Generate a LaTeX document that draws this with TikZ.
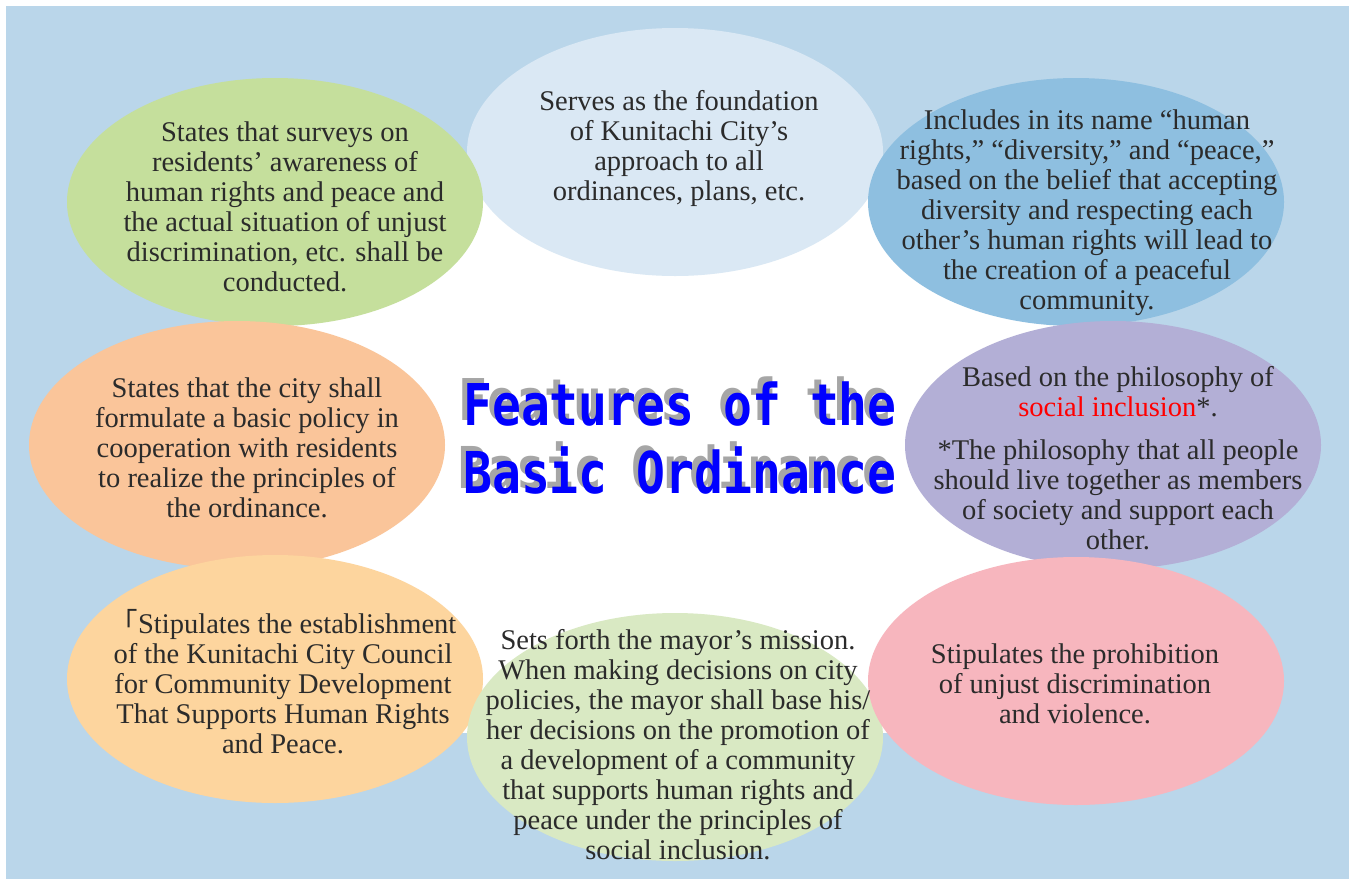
\documentclass[tikz,border=0pt]{standalone}
\usepackage{fontspec}
\setmainfont{Liberation Serif}
\newfontfamily\titlefont{DejaVu Sans Mono}
\newfontfamily\cjkfont{Noto Sans CJK JP}
\usetikzlibrary{shapes.geometric}
\definecolor{bgblue}{HTML}{BAD6EA}
\definecolor{elTC}{HTML}{DAE8F4}
\definecolor{elTL}{HTML}{C5DF9C}
\definecolor{elTR}{HTML}{8EBFE0}
\definecolor{elML}{HTML}{FAC59A}
\definecolor{elMR}{HTML}{B3AFD6}
\definecolor{elBL}{HTML}{FDD59E}
\definecolor{elBC}{HTML}{D9E9C3}
\definecolor{elBR}{HTML}{F7B6BE}
\definecolor{txtgray}{HTML}{2B2B2B}
\definecolor{shadowgray}{HTML}{A6A6A6}
\definecolor{titleblue}{HTML}{0000FF}
\definecolor{redword}{HTML}{FF0000}
\tikzset{
  bubble/.style={ellipse, inner sep=0pt, minimum width=416pt, minimum height=248pt, draw=none},
  bubbletext/.style={align=center, text=txtgray, inner sep=0pt, font=\fontsize{28.5}{30}\selectfont},
  titleline/.style={anchor=base, inner sep=0pt, text=titleblue, font=\titlefont\bfseries\fontsize{48}{50}\selectfont},
}
\newcommand{\tallt}[1]{\scalebox{1}[1.2]{#1}}
\newcommand{\shadowed}[1]{\makebox[0pt][l]{\hspace*{-5pt}\raisebox{5pt}{\textcolor{shadowgray}{\tallt{#1}}}}\tallt{#1}}
\begin{document}
\begin{tikzpicture}[x=1pt,y=-1pt]
\useasboundingbox (0,0) rectangle (1349,879);
\fill[white] (0,0) rectangle (1349,879);
\fill[bgblue] (6,6) rectangle (1349,879);
\fill[white] (250,160) rectangle (1100,733);

\node[bubble, fill=elTC] (tc) at (675,152) {};
\node[bubble, fill=elTL] (tl) at (275,202) {};
\node[bubble, fill=elTR] (tr) at (1076,202) {};
\node[bubble, fill=elML] (ml) at (237,445) {};
\node[bubble, fill=elMR] (mr) at (1113,445) {};
\node[bubble, fill=elBL] (bl) at (275,679) {};
\node[bubble, fill=elBC] (bc) at (675,737) {};
\node[bubble, fill=elBR] (br) at (1076,681) {};

\node[bubbletext] (tctext) at (679,148) {Serves as the foundation\\of Kunitachi City’s\\approach to all\\ordinances, plans, etc.};
\node[bubbletext] (tltext) at (285,207) {States that surveys on\\residents’ awareness of\\human rights and peace and\\the actual situation of unjust\\discrimination, etc. shall be\\conducted.};
\node[bubbletext] (trtext) at (1087,213) {Includes in its name “human\\rights,” “diversity,” and “peace,”\\based on the belief that accepting\\diversity and respecting each\\other’s human rights will lead to\\the creation of a peaceful\\community.};
\node[bubbletext] (mltext) at (247,448) {States that the city shall\\formulate a basic policy in\\cooperation with residents\\to realize the principles of\\the ordinance.};
\node[bubbletext] (mrtext) at (1118,458) {Based on the philosophy of\\\textcolor{redword}{social inclusion}*.\\[13pt]*The philosophy that all people\\should live together as members\\of society and support each\\other.};
\node[bubbletext] (bltext) at (283,682) {{\cjkfont 「}Stipulates the establishment\\of the Kunitachi City Council\\for Community Development\\That Supports Human Rights\\and Peace.};
\node[bubbletext] (bctext) at (678,745) {Sets forth the mayor’s mission.\\When making decisions on city\\policies, the mayor shall base his/\\her decisions on the promotion of\\a development of a community\\that supports human rights and\\peace under the principles of\\social inclusion.};
\node[bubbletext] (brtext) at (1075,684) {Stipulates the prohibition\\of unjust discrimination\\and violence.};

\node[titleline] (t1) at (680,425) {\shadowed{Features of the}};
\node[titleline] (t2) at (680,493) {\shadowed{Basic Ordinance}};
\end{tikzpicture}
\end{document}
